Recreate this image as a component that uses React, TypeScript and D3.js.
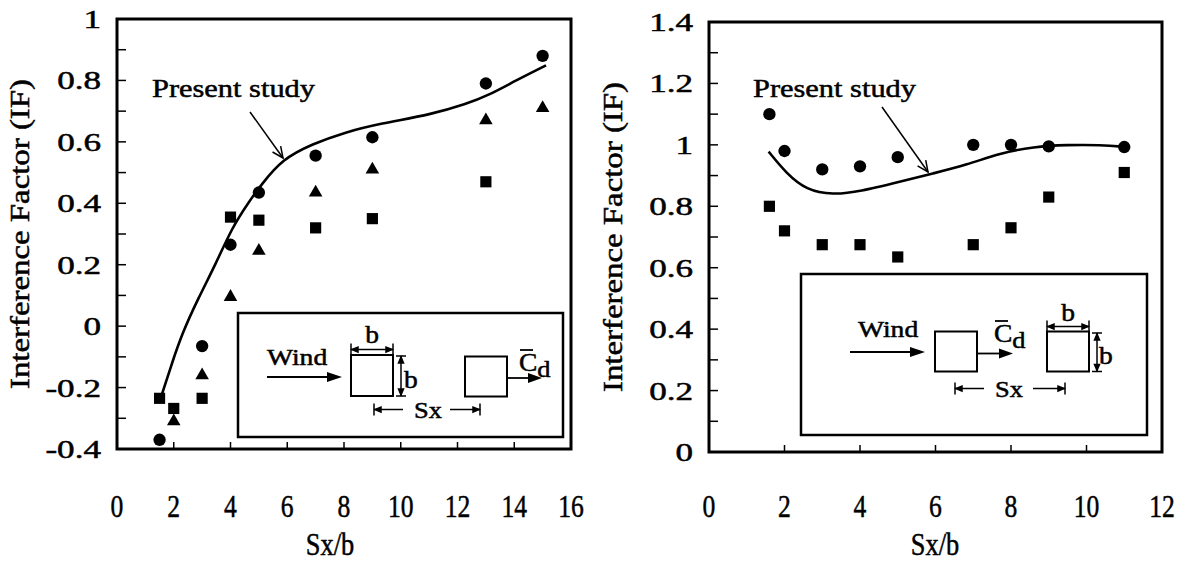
import React from 'react';
import * as d3 from 'd3';

// ---- Left panel data ----
const leftXTicks = [0, 2, 4, 6, 8, 10, 12, 14, 16];
const leftYTicks = [-0.4, -0.2, 0, 0.2, 0.4, 0.6, 0.8, 1];
const leftYLabels = ['-0.4', '-0.2', '0', '0.2', '0.4', '0.6', '0.8', '1'];

const leftCircleSx = [1.5, 3, 4, 5, 7, 9, 13, 15];
const leftCircleIF = [-0.37, -0.065, 0.265, 0.435, 0.555, 0.615, 0.79, 0.88];
const leftTriangleSx = [2, 3, 4, 5, 7, 9, 13, 15];
const leftTriangleIF = [-0.31, -0.16, 0.095, 0.245, 0.435, 0.51, 0.67, 0.71];
const leftSquareSx = [1.5, 2, 3, 4, 5, 7, 9, 13];
const leftSquareIF = [-0.235, -0.268, -0.235, 0.355, 0.345, 0.32, 0.35, 0.47];

const leftStudySx = [1.59, 1.94, 2.29, 2.88, 3.47, 4.06, 4.65, 5.08, 5.83, 6.88, 8.06, 9.24, 11.12, 12.3, 13.08, 14.06, 15.12];
const leftStudyIF = [-0.22, -0.12, -0.025, 0.094, 0.2, 0.322, 0.405, 0.46, 0.544, 0.593, 0.632, 0.659, 0.69, 0.723, 0.751, 0.8, 0.849];

// ---- Right panel data ----
const rightXTicks = [0, 2, 4, 6, 8, 10, 12];
const rightYTicks = [0, 0.2, 0.4, 0.6, 0.8, 1, 1.2, 1.4];
const rightYLabels = ['0', '0.2', '0.4', '0.6', '0.8', '1', '1.2', '1.4'];

const rightCircleSx = [1.6, 2, 3, 4, 5, 7, 8, 9, 11];
const rightCircleIF = [1.1, 0.98, 0.92, 0.93, 0.96, 1.0, 1.0, 0.995, 0.993];
const rightSquareSx = [1.6, 2, 3, 4, 5, 7, 8, 9, 11];
const rightSquareIF = [0.8, 0.72, 0.675, 0.675, 0.635, 0.675, 0.73, 0.83, 0.91];

const rightStudySx = [1.58, 2.05, 2.58, 3.28, 3.99, 5.05, 5.94, 6.83, 7.71, 8.6, 9.48, 10.37, 11.05];
const rightStudyIF = [0.978, 0.907, 0.853, 0.837, 0.848, 0.88, 0.907, 0.935, 0.973, 0.994, 1.0, 1.0, 0.993];

const FONT = "'Liberation Serif', 'Times New Roman', serif";
const INK = '#000';
const TEXT_STROKE = 0.5;

type Pt = [number, number];
const zip = (a: number[], b: number[]): Pt[] => a.map((v, i) => [v, b[i]]);

function ArrowHead({ x, y, angle, len = 14, half = 5 }: { x: number; y: number; angle: number; len?: number; half?: number }) {
  return (
    <path
      d={`M0,0 L${-len},${-half} L${-len},${half} Z`}
      transform={`translate(${x},${y}) rotate(${angle})`}
      fill={INK}
    />
  );
}

function SText({ x, y, size, sx = 1, anchor = 'start', children }: any) {
  return (
    <text
      transform={`translate(${x},${y}) scale(${sx},1)`}
      fontSize={size}
      textAnchor={anchor}
      fontFamily={FONT}
      fill={INK}
      stroke={INK}
      strokeWidth={TEXT_STROKE}
    >
      {children}
    </text>
  );
}

// Horizontal dimension line with end stops and small arrowheads pointing outward
function HDim({ x0, x1, y, gap }: { x0: number; x1: number; y: number; gap?: [number, number] }) {
  return (
    <g stroke={INK} strokeWidth={1.5}>
      <line x1={x0} y1={y - 6} x2={x0} y2={y + 6} />
      <line x1={x1} y1={y - 6} x2={x1} y2={y + 6} />
      {gap ? (
        <>
          <line x1={x0} y1={y} x2={gap[0]} y2={y} />
          <line x1={gap[1]} y1={y} x2={x1} y2={y} />
        </>
      ) : (
        <line x1={x0} y1={y} x2={x1} y2={y} />
      )}
      <ArrowHead x={x0 + 1} y={y} angle={180} len={6} half={2.5} />
      <ArrowHead x={x1 - 1} y={y} angle={0} len={6} half={2.5} />
    </g>
  );
}

function VDim({ x, y0, y1 }: { x: number; y0: number; y1: number }) {
  return (
    <g stroke={INK} strokeWidth={1.5}>
      <line x1={x - 5} y1={y0} x2={x + 5} y2={y0} />
      <line x1={x - 5} y1={y1} x2={x + 5} y2={y1} />
      <line x1={x} y1={y0} x2={x} y2={y1} />
      <ArrowHead x={x} y={y0 + 1} angle={-90} len={6} half={2.5} />
      <ArrowHead x={x} y={y1 - 1} angle={90} len={6} half={2.5} />
    </g>
  );
}

// Mean drag coefficient symbol: C with overbar and subscript d
function Cd({ x, y }: { x: number; y: number }) {
  return (
    <g>
      <text
        transform={`translate(${x},${y}) scale(1.1,1)`}
        fontSize={25}
        fontFamily={FONT}
        fill={INK}
        stroke={INK}
        strokeWidth={TEXT_STROKE}
      >
        <tspan>C</tspan>
        <tspan dy={6} fontSize={24}>d</tspan>
      </text>
      <line x1={x + 1} y1={y - 21} x2={x + 14} y2={y - 21} stroke={INK} strokeWidth={1.8} />
    </g>
  );
}

// Sketch of the two prisms in tandem, upstream square carries the b x b dimensions
function LeftInset() {
  const ox = 238, oy = 313;
  return (
    <g transform={`translate(${ox},${oy})`}>
      <rect x={0} y={0} width={325} height={124} fill="#fff" stroke={INK} strokeWidth={2.5} />
      <SText x={29} y={52} size={23} sx={1.2}>Wind</SText>
      <line x1={29} y1={64} x2={94} y2={64} stroke={INK} strokeWidth={1.8} />
      <ArrowHead x={104} y={64} angle={0} len={15} half={5} />
      <rect x={113} y={42} width={42} height={41} fill="none" stroke={INK} strokeWidth={2} />
      <HDim x0={113} x1={155} y={36.5} />
      <SText x={134} y={30} size={25} sx={1.1} anchor="middle">b</SText>
      <VDim x={163} y0={43} y1={83} />
      <SText x={166} y={75} size={25} sx={1.1}>b</SText>
      <HDim x0={136} x1={242} y={96.5} gap={[165, 212]} />
      <SText x={190} y={105} size={24} sx={1.1} anchor="middle">Sx</SText>
      <rect x={227} y={43.5} width={42} height={40} fill="none" stroke={INK} strokeWidth={2} />
      <line x1={269} y1={65} x2={292} y2={65} stroke={INK} strokeWidth={1.8} />
      <ArrowHead x={304} y={65} angle={0} len={14} half={5} />
      <Cd x={281} y={58} />
    </g>
  );
}

function RightInset() {
  const ox = 801, oy = 274;
  return (
    <g transform={`translate(${ox},${oy})`}>
      <rect x={0} y={0} width={346} height={161} fill="#fff" stroke={INK} strokeWidth={2.5} />
      <SText x={57} y={63} size={23} sx={1.2}>Wind</SText>
      <line x1={49} y1={78} x2={112} y2={78} stroke={INK} strokeWidth={1.8} />
      <ArrowHead x={124} y={78} angle={0} len={15} half={5} />
      <rect x={134} y={57.5} width={42} height={40} fill="none" stroke={INK} strokeWidth={2} />
      <line x1={176} y1={79.5} x2={200} y2={79.5} stroke={INK} strokeWidth={1.8} />
      <ArrowHead x={212} y={79.5} angle={0} len={14} half={5} />
      <Cd x={193} y={68} />
      <rect x={246} y={57.5} width={42} height={40} fill="none" stroke={INK} strokeWidth={2} />
      <HDim x0={246} x1={288} y={52.5} />
      <SText x={267} y={47} size={25} sx={1.1} anchor="middle">b</SText>
      <VDim x={296} y0={59} y1={97.5} />
      <SText x={298} y={90} size={25} sx={1.1}>b</SText>
      <HDim x0={154} x1={264} y={114.5} gap={[183, 232]} />
      <SText x={208} y={123} size={24} sx={1.1} anchor="middle">Sx</SText>
    </g>
  );
}

type Series = { kind: 'circle' | 'square' | 'triangle'; pts: Pt[] };

type PanelProps = {
  x0: number; x1: number; y0: number; y1: number;
  xMax: number; yMin: number; yMax: number;
  xTicks: number[]; yTicks: number[]; yLabels: string[];
  series: Series[]; study: Pt[];
  titleX: number; labelX: number; labelY: number;
  arrow: [number, number, number, number];
  inset: React.ReactNode;
  axisLabelX: number;
};

function Panel(p: PanelProps) {
  const x = d3.scaleLinear().domain([0, p.xMax]).range([p.x0, p.x1]);
  const y = d3.scaleLinear().domain([p.yMin, p.yMax]).range([p.y1, p.y0]);
  const minor = d3.range(Math.round(p.yMin * 10), Math.round(p.yMax * 10) + 1).map((k) => k / 10);
  const line = d3.line<Pt>().x((d) => x(d[0])).y((d) => y(d[1])).curve(d3.curveBasis);
  const sym = {
    circle: d3.symbol().type(d3.symbolCircle).size(120)(),
    square: d3.symbol().type(d3.symbolSquare).size(125)(),
    triangle: d3.symbol().type(d3.symbolTriangle).size(80)(),
  };
  const [ax0, ay0, ax1, ay1] = p.arrow;
  const ang = (Math.atan2(ay1 - ay0, ax1 - ax0) * 180) / Math.PI;
  const yMid = (p.y0 + p.y1) / 2;
  return (
    <g>
      {/* left-axis ticks every 0.1 */}
      {minor.map((v) => (
        <line key={'ym' + v} x1={p.x0} x2={p.x0 + 9} y1={y(v)} y2={y(v)} stroke={INK} strokeWidth={1.5} />
      ))}
      {p.xTicks.slice(1, -1).map((v) => (
        <line key={'xt' + v} x1={x(v)} x2={x(v)} y1={p.y1} y2={p.y1 - 7} stroke={INK} strokeWidth={1.5} />
      ))}
      {p.yTicks.map((v, i) => (
        <SText key={'yl' + v} x={p.x0 - 16} y={y(v) + 9} size={26} sx={1.35} anchor="end">{p.yLabels[i]}</SText>
      ))}
      {p.xTicks.map((v) => (
        <SText key={'xl' + v} x={x(v)} y={517} size={32} sx={0.8} anchor="middle">{String(v)}</SText>
      ))}
      <text
        transform={`translate(${p.titleX},${yMid}) rotate(-90)`}
        fontSize={27}
        textAnchor="middle"
        fontFamily={FONT}
        textLength={310}
        lengthAdjust="spacingAndGlyphs"
        fill={INK}
        stroke={INK}
        strokeWidth={TEXT_STROKE}
      >
        Interference Factor (IF)
      </text>
      <SText x={p.axisLabelX} y={555} size={31} sx={0.85} anchor="middle">Sx/b</SText>

      {p.inset}

      <path d={line(p.study) || ''} fill="none" stroke={INK} strokeWidth={2.6} />
      {p.series.map((s, si) =>
        s.pts.map((d, i) => (
          <path key={si + '-' + i} d={sym[s.kind] || ''} transform={`translate(${x(d[0])},${y(d[1])})`} fill={INK} />
        ))
      )}

      <text
        x={p.labelX}
        y={p.labelY}
        fontSize={26}
        fontFamily={FONT}
        textLength={163}
        lengthAdjust="spacingAndGlyphs"
        fill={INK}
        stroke={INK}
        strokeWidth={TEXT_STROKE}
      >
        Present study
      </text>
      <line x1={ax0} y1={ay0} x2={ax1} y2={ay1} stroke={INK} strokeWidth={1.5} />
      <path
        d="M-11,-5 L0,0 L-11,5"
        transform={`translate(${ax1},${ay1}) rotate(${ang})`}
        fill="none"
        stroke={INK}
        strokeWidth={1.5}
      />

      <rect x={p.x0} y={p.y0} width={p.x1 - p.x0} height={p.y1 - p.y0} fill="none" stroke={INK} strokeWidth={3} />
    </g>
  );
}

export default function App() {
  return (
    <svg
      width={1192}
      height={563}
      viewBox="0 0 1192 563"
      style={{ position: 'absolute', left: 0, top: 0, background: '#fff' }}
    >
      <rect width={1192} height={563} fill="#fff" />
      <Panel
        x0={117} x1={571} y0={19} y1={449}
        xMax={16} yMin={-0.4} yMax={1}
        xTicks={leftXTicks} yTicks={leftYTicks} yLabels={leftYLabels}
        series={[
          { kind: 'circle', pts: zip(leftCircleSx, leftCircleIF) },
          { kind: 'triangle', pts: zip(leftTriangleSx, leftTriangleIF) },
          { kind: 'square', pts: zip(leftSquareSx, leftSquareIF) },
        ]}
        study={zip(leftStudySx, leftStudyIF)}
        titleX={29} labelX={152} labelY={97}
        arrow={[250, 112, 283, 158]}
        inset={<LeftInset />}
        axisLabelX={330}
      />
      <Panel
        x0={709} x1={1162} y0={22} y1={452}
        xMax={12} yMin={0} yMax={1.4}
        xTicks={rightXTicks} yTicks={rightYTicks} yLabels={rightYLabels}
        series={[
          { kind: 'circle', pts: zip(rightCircleSx, rightCircleIF) },
          { kind: 'square', pts: zip(rightSquareSx, rightSquareIF) },
        ]}
        study={zip(rightStudySx, rightStudyIF)}
        titleX={622} labelX={753} labelY={97}
        arrow={[882, 107, 928, 172]}
        inset={<RightInset />}
        axisLabelX={935}
      />
    </svg>
  );
}
